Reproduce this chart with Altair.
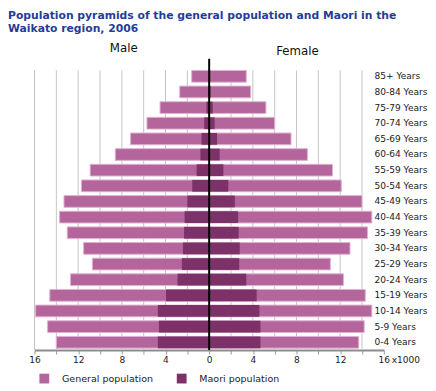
import altair as alt
import pandas as pd

ages = ["85+ Years", "80-84 Years", "75-79 Years", "70-74 Years", "65-69 Years",
        "60-64 Years", "55-59 Years", "50-54 Years", "45-49 Years", "40-44 Years",
        "35-39 Years", "30-34 Years", "25-29 Years", "20-24 Years", "15-19 Years",
        "10-14 Years", "5-9 Years", "0-4 Years"]

male_general = [1.6, 2.7, 4.5, 5.7, 7.2, 8.6, 10.9, 11.7, 13.3, 13.7,
                13.0, 11.5, 10.7, 12.7, 14.6, 15.9, 14.8, 14.0]
female_general = [3.4, 3.8, 5.2, 6.0, 7.5, 9.0, 11.3, 12.1, 14.0, 14.9,
                  14.5, 12.9, 11.1, 12.3, 14.3, 14.9, 14.2, 13.7]
male_maori = [0.05, 0.1, 0.25, 0.45, 0.7, 0.8, 1.15, 1.55, 2.0, 2.25,
              2.3, 2.4, 2.5, 2.9, 3.95, 4.7, 4.6, 4.7]
female_maori = [0.1, 0.15, 0.33, 0.5, 0.72, 0.96, 1.3, 1.75, 2.35, 2.65,
                2.7, 2.8, 2.75, 3.4, 4.35, 4.6, 4.7, 4.7]

series_names = ["General population", "Maori population"]
series_colors = ["#b4669c", "#7d3169"]
grid_values = list(range(-16, 16, 2))
tick_values = list(range(-16, 17, 2))
title_lines = ["Population pyramids of the general population and Maori in the",
               "Waikato region, 2006"]

rows = []
for i, a in enumerate(ages):
    rows.append(dict(age=a, sex="Male", series=series_names[0], value=-male_general[i]))
    rows.append(dict(age=a, sex="Female", series=series_names[0], value=female_general[i]))
    rows.append(dict(age=a, sex="Male", series=series_names[1], value=-male_maori[i]))
    rows.append(dict(age=a, sex="Female", series=series_names[1], value=female_maori[i]))
df = pd.DataFrame(rows)

FONT = "DejaVu Sans"
xscale = alt.Scale(domain=[-16, 16], nice=False, zero=True)

x_axis = alt.Axis(values=tick_values, title=None, grid=False,
                  labelExpr="abs(datum.value) % 4 == 0 ? '' + abs(datum.value) : ''",
                  labelOverlap=False, labelFlush=False,
                  domainColor="#8c8c8c", domainWidth=2,
                  tickColor="#9a9a9a", tickSize=4, tickWidth=1,
                  labelFontSize=9.2, labelPadding=2, labelColor="#222222",
                  labelFont=FONT)

y_enc = alt.Y("age:N", sort=ages,
              scale=alt.Scale(paddingInner=0.25, paddingOuter=0.125),
              axis=alt.Axis(orient="right", title=None, domain=False, ticks=False,
                            tickSize=0, labelPadding=0, offset=-10, labelAlign="left",
                            labelFontSize=9.2, labelColor="#222222", labelFont=FONT))

x_enc = alt.X("value:Q", scale=xscale, axis=x_axis)

color_enc = alt.Color("series:N",
                      scale=alt.Scale(domain=series_names, range=series_colors),
                      legend=alt.Legend(orient="none", legendX=5, legendY=311,
                                        direction="horizontal", title=None,
                                        symbolType="square", symbolSize=100,
                                        symbolStrokeWidth=0, labelFontSize=9.7,
                                        labelFont=FONT, labelColor="#222222",
                                        labelOffset=13, columnPadding=24, padding=0))

grid = alt.Chart(pd.DataFrame({"value": grid_values})).mark_rule(
    color="#c4c4c4", strokeWidth=1
).encode(
    x=alt.X("value:Q", scale=xscale, axis=x_axis),
    y=alt.value(2), y2=alt.value(287)
)

base = alt.Chart(df)
general = base.transform_filter(alt.datum.series == series_names[0]).mark_bar(
    stroke="#deb3d2", strokeWidth=1
).encode(x=x_enc, y=y_enc, color=color_enc)

maori = base.transform_filter(alt.datum.series == series_names[1]).mark_bar().encode(
    x=x_enc, y=y_enc, color=color_enc
)

center = alt.Chart(pd.DataFrame({"value": [0]})).mark_rule(color="black", strokeWidth=2).encode(
    x=alt.X("value:Q", scale=xscale, axis=x_axis),
    y=alt.value(-10), y2=alt.value(287)
)

male_txt = alt.Chart(pd.DataFrame({"t": ["Male"]})).mark_text(
    font=FONT, fontSize=12, color="#111111", align="center", baseline="middle"
).encode(text="t:N", x=alt.value(91), y=alt.value(-21))

female_txt = alt.Chart(pd.DataFrame({"t": ["Female"]})).mark_text(
    font=FONT, fontSize=12, color="#111111", align="center", baseline="middle"
).encode(text="t:N", x=alt.value(268), y=alt.value(-18))

unit_txt = alt.Chart(pd.DataFrame({"t": ["x1000"]})).mark_text(
    font=FONT, fontSize=9.2, color="#222222", align="left", baseline="top"
).encode(text="t:N", x=alt.value(364), y=alt.value(293))

chart = alt.layer(grid, general, maori, center, male_txt, female_txt, unit_txt).properties(
    width=356, height=287,
    padding={"left": 27, "top": 58, "right": 45, "bottom": 35},
    autosize=alt.AutoSizeParams(type="none"),
    title=alt.TitleParams(text=title_lines, anchor="start", frame="group", dx=-27,
                          offset=8, font=FONT, fontSize=11, fontWeight="bold",
                          color="#1f3d99", lineHeight=13.5)
).configure(font=FONT).configure_view(stroke=None)

chart.save("out.html", embed_options={"renderer": "svg", "actions": False})
